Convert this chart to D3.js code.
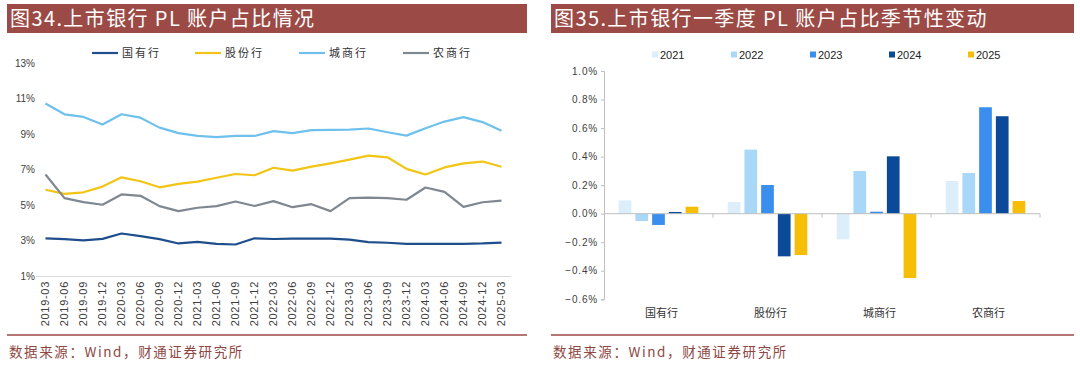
<!DOCTYPE html>
<html>
<head>
<meta charset="utf-8">
<script src="https://cdn.jsdelivr.net/npm/d3@7"></script>
<style>
  body { margin: 0; background: #fff; }
  text { font-family: "Liberation Sans", Arial, sans-serif; }
  .cjk { font-family: "Noto Sans CJK SC", sans-serif; }
</style>
</head>
<body>
<div class="chart"></div>
<script>
var width = 1080
var height = 371

// left chart: quarter labels and the four series (%)
var quarters = ["2019-03","2019-06","2019-09","2019-12","2020-03","2020-06","2020-09","2020-12",
  "2021-03","2021-06","2021-09","2021-12","2022-03","2022-06","2022-09","2022-12",
  "2023-03","2023-06","2023-09","2023-12","2024-03","2024-06","2024-09","2024-12","2025-03"]
var lineNames = ["国有行", "股份行", "城商行", "农商行"]
var guoyou = [3.15,3.10,3.03,3.12,3.42,3.27,3.10,2.86,2.95,2.84,2.80,3.15,3.11,3.13,3.13,3.13,3.08,2.93,2.90,2.84,2.84,2.84,2.84,2.86,2.91]
var gufen = [5.88,5.65,5.74,6.06,6.58,6.36,6.02,6.21,6.34,6.56,6.77,6.70,7.12,6.96,7.18,7.37,7.58,7.80,7.71,7.06,6.74,7.14,7.37,7.47,7.18]
var chengshang = [10.74,10.13,9.98,9.56,10.13,9.94,9.38,9.07,8.92,8.85,8.92,8.91,9.18,9.07,9.24,9.25,9.27,9.33,9.12,8.93,9.34,9.72,9.97,9.69,9.20]
var nongshang = [6.74,5.41,5.19,5.04,5.62,5.54,4.96,4.68,4.87,4.96,5.22,4.97,5.24,4.90,5.07,4.68,5.41,5.44,5.41,5.32,6.01,5.76,4.92,5.18,5.27]
var yTicksLeft = [1, 3, 5, 7, 9, 11, 13]

// right chart: Q1 seasonal change (%)
var bankTypes = ["国有行", "股份行", "城商行", "农商行"]
var years = ["2021", "2022", "2023", "2024", "2025"]
var v2021 = [0.093, 0.082, -0.180, 0.229]
var v2022 = [-0.051, 0.449, 0.299, 0.285]
var v2023 = [-0.079, 0.201, 0.014, 0.746]
var v2024 = [0.012, -0.299, 0.402, 0.683]
var v2025 = [0.049, -0.290, -0.451, 0.089]
var yTicksRight = [-0.6, -0.4, -0.2, 0, 0.2, 0.4, 0.6, 0.8, 1.0]

var lineColors = ["#1f4e8c", "#f2c414", "#6ec1ec", "#7f8790"]
var barColors = ["#ddeefb", "#a9d7f7", "#3a8eee", "#0b4a98", "#f7be08"]
var brand = "#9c4a45"

var svg = d3.select(".chart").append("svg")
            .attr("width", width)
            .attr("height", height)

// title bars + footers
var panels = [
  {x: 7, w: 520, title: "图34.上市银行 PL 账户占比情况"},
  {x: 551, w: 523, title: "图35.上市银行一季度 PL 账户占比季节性变动"}
]
panels.forEach(function(p) {
  svg.append("rect")
     .attr("x", p.x).attr("y", 4)
     .attr("width", p.w).attr("height", 29)
     .attr("fill", brand)
  svg.append("text")
     .attr("class", "cjk")
     .attr("x", p.x + 3).attr("y", 26)
     .attr("fill", "#fff")
     .attr("font-size", 20)
     .attr("letter-spacing", 1.4)
     .text(p.title)
  svg.append("line")
     .attr("x1", p.x).attr("x2", p.x + p.w)
     .attr("y1", 335).attr("y2", 335)
     .attr("stroke", brand).attr("stroke-width", 1.5)
  svg.append("text")
     .attr("class", "cjk")
     .attr("x", p.x + 2).attr("y", 357)
     .attr("fill", "#8e4743")
     .attr("font-size", 13.5)
     .attr("letter-spacing", 1.6)
     .text("数据来源：Wind，财通证券研究所")
})

// ---- left: line chart ----
var xL = d3.scaleBand().domain(quarters).range([36, 511])
var yL = d3.scaleLinear().domain([1, 13]).range([276.5, 63.3])

svg.append("line")
   .attr("x1", 36).attr("x2", 511)
   .attr("y1", yL(1)).attr("y2", yL(1))
   .attr("stroke", "#d9d9d9")

svg.selectAll(".ytl")
   .data(yTicksLeft)
   .enter().append("text")
   .attr("x", 35)
   .attr("y", function(d) { return yL(d); })
   .attr("dy", "0.35em")
   .attr("text-anchor", "end")
   .attr("font-size", 10)
   .attr("fill", "#404040")
   .text(function(d) { return d + "%"; })

svg.selectAll(".xtl")
   .data(quarters)
   .enter().append("text")
   .attr("transform", function(d) {
     return "translate(" + (xL(d) + xL.bandwidth() / 2) + ",281) rotate(-90)";
   })
   .attr("dy", "0.35em")
   .attr("text-anchor", "end")
   .attr("font-size", 11)
   .attr("letter-spacing", 0.7)
   .attr("fill", "#404040")
   .text(function(d) { return d; })

var series = [guoyou, gufen, chengshang, nongshang]
var line = d3.line()
             .x(function(d, i) { return xL(quarters[i]) + xL.bandwidth() / 2; })
             .y(function(d) { return yL(d); })

series.forEach(function(s, k) {
  svg.append("path")
     .attr("d", line(s))
     .attr("fill", "none")
     .attr("stroke", lineColors[k])
     .attr("stroke-width", 2.2)
     .attr("stroke-linejoin", "round")
})

var legendL = [92, 195, 299, 403]
lineNames.forEach(function(n, k) {
  svg.append("line")
     .attr("x1", legendL[k]).attr("x2", legendL[k] + 26)
     .attr("y1", 53).attr("y2", 53)
     .attr("stroke", lineColors[k]).attr("stroke-width", 2.2)
  svg.append("text")
     .attr("class", "cjk")
     .attr("x", legendL[k] + 30).attr("y", 53)
     .attr("dy", "0.35em")
     .attr("font-size", 11)
     .attr("letter-spacing", 2)
     .attr("fill", "#333")
     .text(n)
})

// ---- right: grouped bars ----
var x0 = d3.scaleBand().domain(bankTypes).range([604, 1040])
var x1 = d3.scaleBand().domain(years).range([0, x0.bandwidth()])
           .paddingInner(0.24).paddingOuter(0.88)
var yR = d3.scaleLinear().domain([-0.6, 1.0]).range([299.3, 71])

var yAxisR = d3.axisLeft(yR)
               .tickValues(yTicksRight)
               .tickSize(3)
               .tickFormat(function(d) { return d3.format(".1f")(d) + "%"; })
var gy = svg.append("g").attr("transform", "translate(604,0)").call(yAxisR)
gy.select(".domain").attr("stroke", "#bfbfbf")
gy.selectAll(".tick line").attr("stroke", "#bfbfbf")
gy.selectAll(".tick text")
  .attr("font-size", 10)
  .attr("fill", "#404040")
  .attr("font-family", "Liberation Sans, Arial, sans-serif")
  .attr("letter-spacing", 0.8)

var byYear = [v2021, v2022, v2023, v2024, v2025]
var groups = svg.selectAll(".grp")
                .data(bankTypes)
                .enter().append("g")
                .attr("transform", function(d) { return "translate(" + x0(d) + ",0)"; })

groups.selectAll("rect")
      .data(function(d, i) {
        return years.map(function(y, k) { return {year: y, k: k, v: byYear[k][i]}; });
      })
      .enter().append("rect")
      .attr("x", function(d) { return x1(d.year); })
      .attr("y", function(d) { return yR(Math.max(0, d.v)); })
      .attr("width", x1.bandwidth())
      .attr("height", function(d) { return Math.abs(yR(d.v) - yR(0)); })
      .attr("fill", function(d) { return barColors[d.k]; })

// zero axis with category boundary ticks
svg.append("line")
   .attr("x1", 604).attr("x2", 1040)
   .attr("y1", yR(0)).attr("y2", yR(0))
   .attr("stroke", "#bfbfbf")
bankTypes.forEach(function(b) {
  svg.append("line")
     .attr("x1", x0(b) + x0.bandwidth()).attr("x2", x0(b) + x0.bandwidth())
     .attr("y1", yR(0)).attr("y2", yR(0) + 4)
     .attr("stroke", "#bfbfbf")
})

svg.selectAll(".cat")
   .data(bankTypes)
   .enter().append("text")
   .attr("class", "cjk")
   .attr("x", function(d) { return x0(d) + x0.bandwidth() / 2 + 3; })
   .attr("y", 313)
   .attr("dy", "0.35em")
   .attr("text-anchor", "middle")
   .attr("font-size", 11)
   .attr("fill", "#333")
   .text(function(d) { return d; })

var legendR = [652, 731, 810, 889, 968]
years.forEach(function(y, k) {
  svg.append("rect")
     .attr("x", legendR[k]).attr("y", 51.5)
     .attr("width", 6).attr("height", 6)
     .attr("fill", barColors[k])
  svg.append("text")
     .attr("x", legendR[k] + 8).attr("y", 55)
     .attr("dy", "0.35em")
     .attr("font-size", 11)
     .attr("fill", "#222")
     .text(y)
})
</script>
</body>
</html>
